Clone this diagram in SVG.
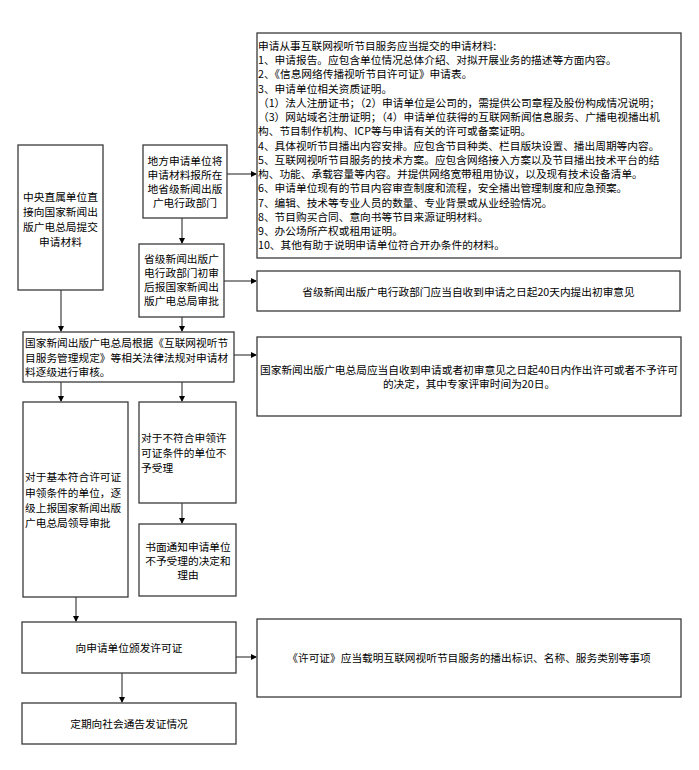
<svg xmlns="http://www.w3.org/2000/svg" width="699" height="770" viewBox="0 0 699 770">
<defs>
<marker id="ah" markerWidth="6" markerHeight="6" refX="5" refY="3" orient="auto" markerUnits="userSpaceOnUse">
<path d="M0,0 L6,3 L0,6 z" fill="#000"/>
</marker>
<style>
.box{fill:#fff;stroke:#3a3a3a;stroke-width:1.3}
.t{font-family:"Noto Sans CJK SC","Liberation Sans",sans-serif;font-size:10.7px;fill:#000}
.c{text-anchor:middle}
.cn{stroke:#707070;stroke-width:1.6;fill:none;marker-end:url(#ah)}
</style>
</defs>
<rect width="699" height="770" fill="#fff"/>
<g id="connectors">
<line class="cn" x1="227" y1="174" x2="256" y2="174"/>
<line class="cn" x1="182" y1="218" x2="182" y2="243"/>
<line class="cn" x1="224" y1="281" x2="256" y2="281"/>
<line class="cn" x1="61" y1="290" x2="61" y2="331"/>
<line class="cn" x1="182" y1="317" x2="182" y2="331"/>
<line class="cn" x1="234" y1="355" x2="256" y2="355"/>
<line class="cn" x1="61" y1="382" x2="61" y2="401"/>
<line class="cn" x1="182" y1="382" x2="182" y2="401"/>
<line class="cn" x1="182" y1="503" x2="182" y2="523"/>
<line class="cn" x1="76" y1="597" x2="76" y2="621"/>
<line class="cn" x1="236" y1="657" x2="256" y2="657"/>
<line class="cn" x1="122" y1="673" x2="122" y2="702"/>
</g>
<g id="materials">
<rect class="box" x="257" y="33" width="424" height="225"/>
<text class="t" x="258" y="49.7">申请从事互联网视听节目服务应当提交的申请材料:</text>
<text class="t" x="258" y="64">1、申请报告。应包含单位情况总体介绍、对拟开展业务的描述等方面内容。</text>
<text class="t" x="258" y="78.2">2、《信息网络传播视听节目许可证》申请表。</text>
<text class="t" x="258" y="92.5">3、申请单位相关资质证明。</text>
<text class="t" x="258" y="106.7">（1）法人注册证书；（2）申请单位是公司的，需提供公司章程及股份构成情况说明；</text>
<text class="t" x="258" y="121">（3）网站域名注册证明；（4）申请单位获得的互联网新闻信息服务、广播电视播出机</text>
<text class="t" x="258" y="135.2">构、节目制作机构、ICP等与申请有关的许可或备案证明。</text>
<text class="t" x="258" y="149.5">4、具体视听节目播出内容安排。应包含节目种类、栏目版块设置、播出周期等内容。</text>
<text class="t" x="258" y="163.7">5、互联网视听节目服务的技术方案。应包含网络接入方案以及节目播出技术平台的结</text>
<text class="t" x="258" y="178">构、功能、承载容量等内容。并提供网络宽带租用协议，以及现有技术设备清单。</text>
<text class="t" x="258" y="192.2">6、申请单位现有的节目内容审查制度和流程，安全播出管理制度和应急预案。</text>
<text class="t" x="258" y="206.5">7、编辑、技术等专业人员的数量、专业背景或从业经验情况。</text>
<text class="t" x="258" y="220.7">8、节目购买合同、意向书等节目来源证明材料。</text>
<text class="t" x="258" y="235">9、办公场所产权或租用证明。</text>
<text class="t" x="258" y="249.2">10、其他有助于说明申请单位符合开办条件的材料。</text>
</g>
<g id="central">
<rect class="box" x="18" y="145" width="85" height="145"/>
<text class="t c" x="60.5" y="201">中央直属单位直</text>
<text class="t c" x="60.5" y="216">接向国家新闻出</text>
<text class="t c" x="60.5" y="231">版广电总局提交</text>
<text class="t c" x="60.5" y="246">申请材料</text>
</g>
<g id="local">
<rect class="box" x="143" y="145" width="84" height="73"/>
<text class="t c" x="185" y="165">地方申请单位将</text>
<text class="t c" x="185" y="179">申请材料报所在</text>
<text class="t c" x="185" y="193">地省级新闻出版</text>
<text class="t c" x="185" y="207">广电行政部门</text>
</g>
<g id="provincial">
<rect class="box" x="139" y="244" width="85" height="73"/>
<text class="t c" x="181.5" y="263">省级新闻出版广</text>
<text class="t c" x="181.5" y="277">电行政部门初审</text>
<text class="t c" x="181.5" y="291">后报国家新闻出</text>
<text class="t c" x="181.5" y="305">版广电总局审批</text>
</g>
<g id="note20">
<rect class="box" x="257" y="271" width="423" height="40"/>
<text class="t c" x="468.5" y="296">省级新闻出版广电行政部门应当自收到申请之日起20天内提出初审意见</text>
</g>
<g id="national">
<rect class="box" x="23" y="332" width="211" height="50"/>
<text class="t" x="25" y="347">国家新闻出版广电总局根据《互联网视听节</text>
<text class="t" x="25" y="362">目服务管理规定》等相关法律法规对申请材</text>
<text class="t" x="25" y="376">料逐级进行审核。</text>
</g>
<g id="note40">
<rect class="box" x="257" y="337" width="424" height="79"/>
<text class="t c" x="469" y="374">国家新闻出版广电总局应当自收到申请或者初审意见之日起40日内作出许可或者不予许可</text>
<text class="t c" x="469" y="388">的决定，其中专家评审时间为20日。</text>
</g>
<g id="eligible">
<rect class="box" x="23" y="402" width="105" height="195"/>
<text class="t" x="25" y="481">对于基本符合许可证</text>
<text class="t" x="25" y="497">申领条件的单位，逐</text>
<text class="t" x="25" y="512">级上报国家新闻出版</text>
<text class="t" x="25" y="527">广电总局领导审批</text>
</g>
<g id="ineligible">
<rect class="box" x="139" y="402" width="97" height="101"/>
<text class="t" x="141" y="442">对于不符合申领许</text>
<text class="t" x="141" y="457">可证条件的单位不</text>
<text class="t" x="141" y="472">予受理</text>
</g>
<g id="notify">
<rect class="box" x="139" y="524" width="97" height="72"/>
<text class="t c" x="188" y="551">书面通知申请单位</text>
<text class="t c" x="188" y="565">不予受理的决定和</text>
<text class="t c" x="188" y="579">理由</text>
</g>
<g id="issue">
<rect class="box" x="22" y="622" width="214" height="51"/>
<text class="t c" x="129" y="652">向申请单位颁发许可证</text>
</g>
<g id="noteLicense">
<rect class="box" x="257" y="619" width="424" height="78"/>
<text class="t c" x="469" y="662">《许可证》应当载明互联网视听节目服务的播出标识、名称、服务类别等事项</text>
</g>
<g id="announce">
<rect class="box" x="22" y="703" width="214" height="41"/>
<text class="t c" x="129" y="728">定期向社会通告发证情况</text>
</g>
</svg>
